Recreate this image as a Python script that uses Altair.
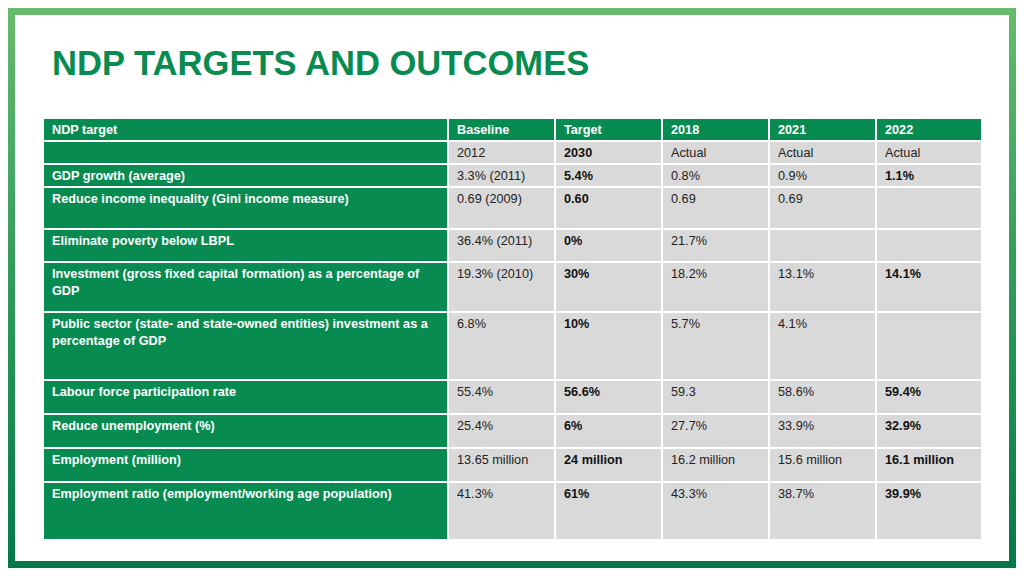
import altair as alt
import pandas as pd

# ---------------- data ----------------
title_text = ["NDP TARGETS AND OUTCOMES"]
col_headers = ["NDP target", "Baseline", "Target", "2018", "2021", "2022"]
row_labels = [
    "",
    "GDP growth (average)",
    "Reduce income inequality (Gini income measure)",
    "Eliminate poverty below LBPL",
    "Investment (gross fixed capital formation) as a percentage of\nGDP",
    "Public sector (state- and state-owned entities) investment as a\npercentage of GDP",
    "Labour force participation rate",
    "Reduce unemployment (%)",
    "Employment (million)",
    "Employment ratio (employment/working age population)",
]
baseline = ["2012", "3.3% (2011)", "0.69 (2009)", "36.4% (2011)", "19.3% (2010)", "6.8%",
            "55.4%", "25.4%", "13.65 million", "41.3%"]
target = ["2030", "5.4%", "0.60", "0%", "30%", "10%", "56.6%", "6%", "24 million", "61%"]
actual_2018 = ["Actual", "0.8%", "0.69", "21.7%", "18.2%", "5.7%", "59.3", "27.7%",
               "16.2 million", "43.3%"]
actual_2021 = ["Actual", "0.9%", "0.69", "", "13.1%", "4.1%", "58.6%", "33.9%",
               "15.6 million", "38.7%"]
actual_2022 = ["Actual", "1.1%", "", "", "14.1%", "", "59.4%", "32.9%",
               "16.1 million", "39.9%"]

# ---------------- layout (page pixel coordinates) ----------------
W, H = 1008, 560
panel = (15, 1009, 15, 561)
col_edges = [43, 448, 555, 662, 769, 876, 982]
row_edges = [118, 141, 164, 187, 229, 262, 312, 380, 414, 448, 482, 540]
GREEN = "#078b50"
GRAY = "#d9d9d9"
FONT = "Liberation Sans"
FS = 12.7

columns = [row_labels, baseline, target, actual_2018, actual_2021, actual_2022]
table = [[col_headers[c] for c in range(6)]]
for r in range(len(row_labels)):
    table.append([columns[c][r] for c in range(6)])

cells, texts = [], []
for r, row in enumerate(table):
    for c, val in enumerate(row):
        green = (r == 0 or c == 0)
        cells.append(dict(x=col_edges[c] + 1, x2=col_edges[c + 1] - 1,
                          y=row_edges[r] + 1, y2=row_edges[r + 1] - 1,
                          kind="g" if green else "d"))
        bold = green or c == 2 or (c == 5 and r >= 2)
        for i, line in enumerate(val.split("\n")):
            if line:
                texts.append(dict(x=col_edges[c] + 9, y=row_edges[r] + 16 + i * 16.5,
                                  t=line, col="w" if green else "k",
                                  w="bold" if bold else "normal"))

cells = pd.DataFrame(cells)
texts = pd.DataFrame(texts)

xs = alt.Scale(domain=[8, 8 + W], nice=False, zero=False)
ys = alt.Scale(domain=[8, 8 + H], nice=False, zero=False, reverse=True)
one = pd.DataFrame({"a": [0]})

bg = alt.Chart(one).mark_rect(
    color=alt.LinearGradient(
        gradient="linear",
        stops=[alt.GradientStop(color="#66bb6c", offset=0),
               alt.GradientStop(color="#2f9a5a", offset=0.5),
               alt.GradientStop(color="#05784a", offset=1)],
        x1=0, x2=0, y1=0, y2=1)
).encode(x=alt.value(0), x2=alt.value(W), y=alt.value(0), y2=alt.value(H))

pan = alt.Chart(pd.DataFrame([dict(x=panel[0], x2=panel[1], y=panel[2], y2=panel[3])])).mark_rect(
    color="white").encode(
    x=alt.X("x:Q", scale=xs, axis=None), x2="x2:Q",
    y=alt.Y("y:Q", scale=ys, axis=None), y2="y2:Q")

title = alt.Chart(pd.DataFrame({"t": title_text, "x": [52], "y": [75]})).mark_text(
    align="left", baseline="alphabetic", font=FONT, fontSize=34.6, fontWeight="bold",
    color=GREEN).encode(
    x=alt.X("x:Q", scale=xs, axis=None), y=alt.Y("y:Q", scale=ys, axis=None), text="t:N")

rects = alt.Chart(cells).mark_rect().encode(
    x=alt.X("x:Q", scale=xs, axis=None), x2="x2:Q",
    y=alt.Y("y:Q", scale=ys, axis=None), y2="y2:Q",
    color=alt.Color("kind:N", scale=alt.Scale(domain=["g", "d"], range=[GREEN, GRAY]),
                    legend=None))

txt_bold = alt.Chart(texts[texts.w == "bold"]).mark_text(
    align="left", baseline="alphabetic", font=FONT, fontSize=FS, fontWeight="bold").encode(
    x=alt.X("x:Q", scale=xs, axis=None), y=alt.Y("y:Q", scale=ys, axis=None), text="t:N",
    color=alt.Color("col:N", scale=alt.Scale(domain=["w", "k"], range=["#ffffff", "#111111"]),
                    legend=None))
txt_norm = alt.Chart(texts[texts.w == "normal"]).mark_text(
    align="left", baseline="alphabetic", font=FONT, fontSize=FS).encode(
    x=alt.X("x:Q", scale=xs, axis=None), y=alt.Y("y:Q", scale=ys, axis=None), text="t:N",
    color=alt.Color("col:N", scale=alt.Scale(domain=["w", "k"], range=["#ffffff", "#222222"]),
                    legend=None))

chart = alt.layer(bg, pan, title, rects, txt_bold, txt_norm).properties(
    width=W, height=H, padding=0, autosize=alt.AutoSizeParams(type="none")
).configure_view(stroke=None).resolve_scale(color="independent")

chart.save("out.html", embed_options={"renderer": "svg", "actions": False})
